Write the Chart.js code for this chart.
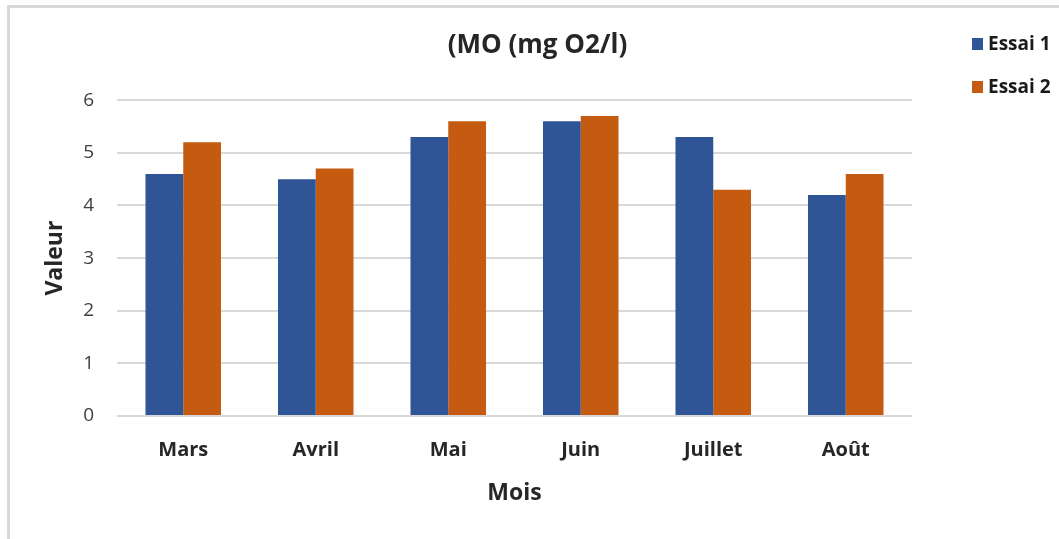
<!DOCTYPE html>
<html>
<head>
<meta charset="utf-8">
<script src="https://cdn.jsdelivr.net/npm/chart.js@4.4.1/dist/chart.umd.min.js"></script>
<style>
html,body{margin:0;padding:0;background:#fff;}
#wrap{position:relative;width:1059px;height:539px;}
canvas{display:block;}
</style>
</head>
<body>
<div id="wrap"><canvas id="c" width="1059" height="539"></canvas></div>
<script>
const categories = ["Mars", "Avril", "Mai", "Juin", "Juillet", "Août"];
const essai1 = [4.6, 4.5, 5.3, 5.6, 5.3, 4.2];
const essai2 = [5.2, 4.7, 5.6, 5.7, 4.3, 4.6];
const seriesNames = ["Essai 1", "Essai 2"];
const seriesColors = ["#2F5597", "#C55A11"];
const yTicks = [0, 1, 2, 3, 4, 5, 6];

const axisFont = "'Open Sans', 'Noto Sans', sans-serif";

const framePlugin = {
  id: 'frame',
  beforeDraw(chart) {
    const ctx = chart.ctx;
    ctx.save();
    ctx.fillStyle = '#fff';
    ctx.fillRect(0, 0, chart.width, chart.height);
    ctx.strokeStyle = '#d9d9d9';
    ctx.lineWidth = 3;
    ctx.beginPath();
    ctx.moveTo(8.5, chart.height);
    ctx.lineTo(8.5, 6.5);
    ctx.lineTo(chart.width, 6.5);
    ctx.stroke();
    ctx.restore();
  }
};

const legendPlugin = {
  id: 'customLegend',
  afterDraw(chart) {
    const ctx = chart.ctx;
    ctx.save();
    chart.data.datasets.forEach((ds, i) => {
      const y = 44 + i * 43;
      ctx.fillStyle = ds.backgroundColor;
      ctx.fillRect(972, y - 6, 11, 12);
      ctx.fillStyle = '#1a1a1a';
      ctx.font = "bold 19px " + axisFont;
      ctx.textBaseline = 'middle';
      ctx.textAlign = 'left';
      ctx.fillText(ds.label, 988, y + 1);
    });
    ctx.restore();
  }
};

new Chart(document.getElementById('c'), {
  type: 'bar',
  data: {
    labels: categories,
    datasets: [
      { label: seriesNames[0], data: essai1, backgroundColor: seriesColors[0] },
      { label: seriesNames[1], data: essai2, backgroundColor: seriesColors[1] }
    ]
  },
  options: {
    responsive: false,
    animation: false,
    devicePixelRatio: 1,
    layout: { padding: { left: 16, right: 0, top: 0, bottom: 0 } },
    datasets: { bar: { categoryPercentage: 0.57, barPercentage: 1.0 } },
    plugins: {
      legend: { display: false },
      tooltip: { enabled: false },
      title: {
        display: true,
        text: '(MO (mg O2/l)',
        color: '#262626',
        font: { family: axisFont, size: 26, weight: 'bold' },
        padding: { top: 30, bottom: 39 }
      }
    },
    scales: {
      x: {
        grid: { display: false, drawTicks: false },
        border: { display: false },
        ticks: { color: '#262626', font: { family: axisFont, size: 20, weight: 'bold' }, padding: 22 },
        title: { display: true, text: 'Mois', color: '#262626', font: { family: axisFont, size: 23, weight: 'bold' }, padding: { top: 0, bottom: 32 } },
        afterFit(s) { s.height = 123; }
      },
      y: {
        min: 0, max: 6,
        afterBuildTicks(s) { s.ticks = yTicks.map(v => ({ value: v })); },
        grid: { color: '#d9d9d9', lineWidth: 2, drawTicks: false },
        border: { display: false },
        ticks: { color: '#404040', font: { family: axisFont, size: 19 }, padding: 23 },
        title: { display: true, text: 'Valeur', color: '#262626', font: { family: axisFont, size: 23, weight: 'bold' }, padding: { top: 26, bottom: 0 } },
        afterFit(s) { s.width = 101; }
      },
      spacer: {
        type: 'linear',
        position: 'right',
        display: true,
        grid: { display: false, drawTicks: false },
        border: { display: false },
        ticks: { display: false },
        afterFit(s) { s.width = 147; }
      }
    }
  },
  plugins: [framePlugin, legendPlugin]
});
</script>
</body>
</html>
